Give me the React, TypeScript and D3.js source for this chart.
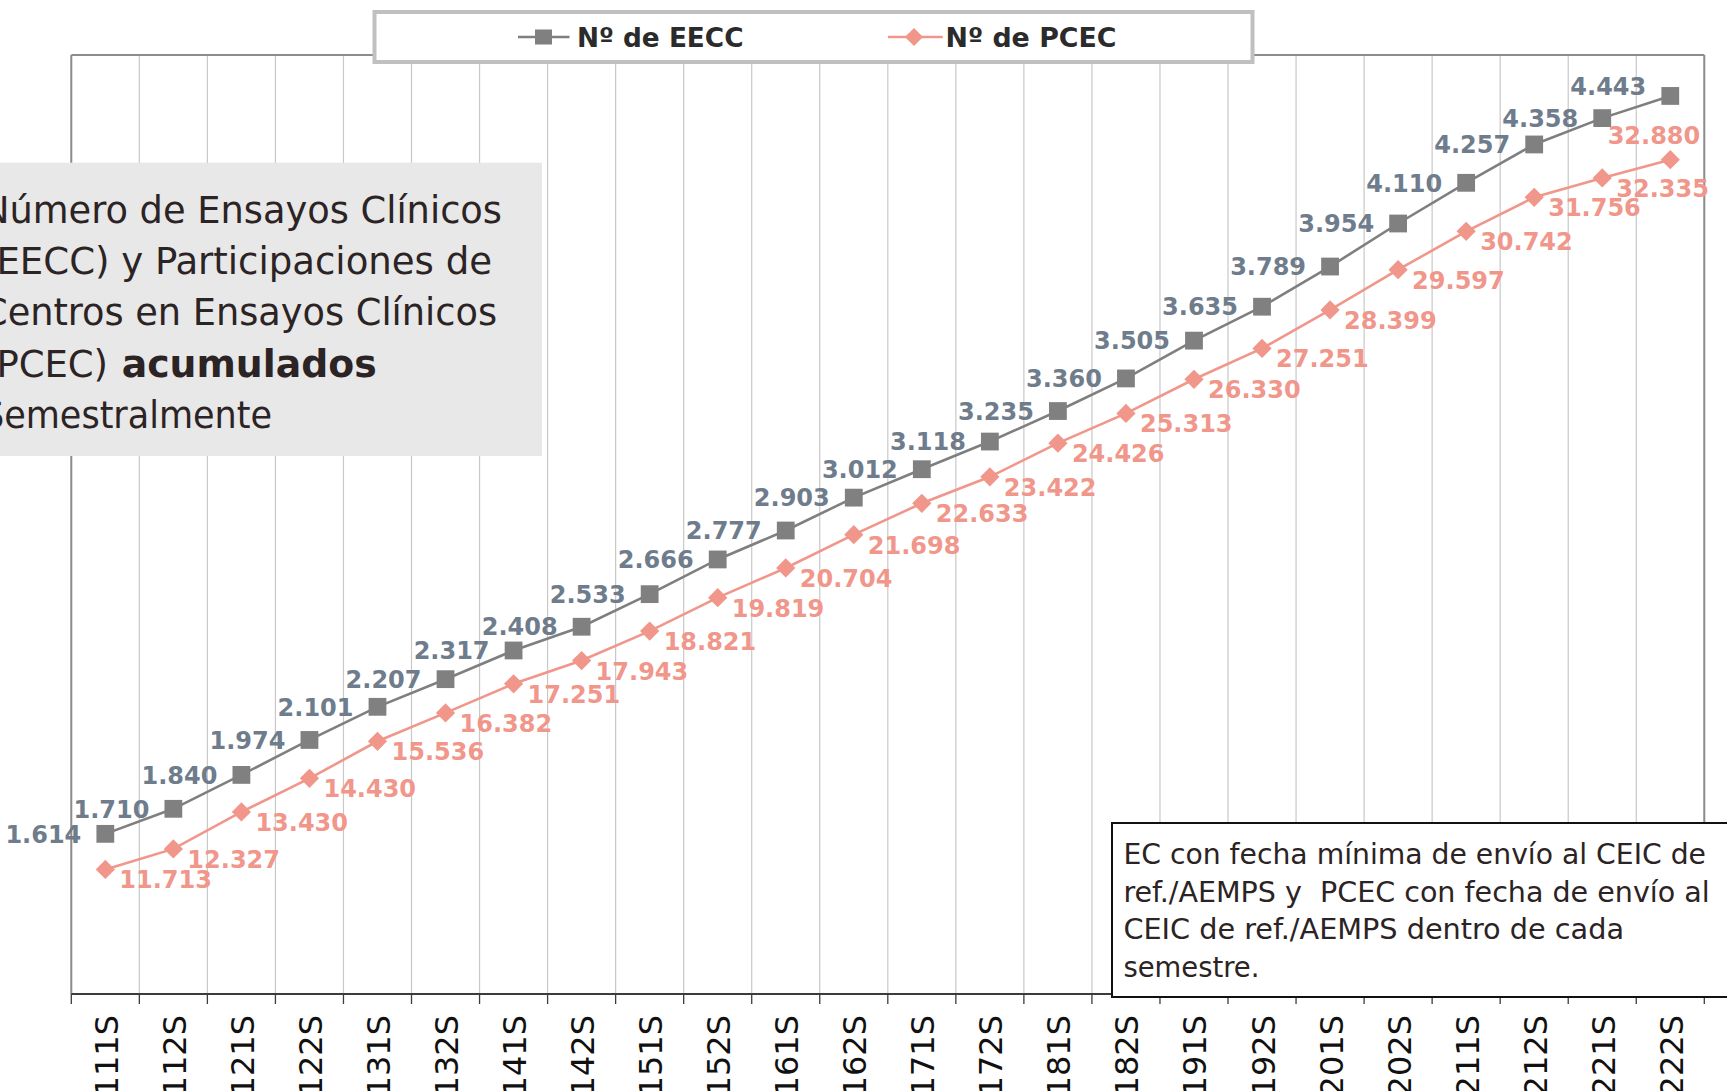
import React from 'react';
import * as d3 from 'd3';

const categories = [
  '20111S', '20112S', '20121S', '20122S', '20131S', '20132S', '20141S', '20142S',
  '20151S', '20152S', '20161S', '20162S', '20171S', '20172S', '20181S', '20182S',
  '20191S', '20192S', '20201S', '20202S', '20211S', '20212S', '20221S', '20222S',
];
const eeccValues = [
  1614, 1710, 1840, 1974, 2101, 2207, 2317, 2408, 2533, 2666, 2777, 2903,
  3012, 3118, 3235, 3360, 3505, 3635, 3789, 3954, 4110, 4257, 4358, 4443,
];
const pcecValues = [
  11713, 12327, 13430, 14430, 15536, 16382, 17251, 17943, 18821, 19819, 20704, 21698,
  22633, 23422, 24426, 25313, 26330, 27251, 28399, 29597, 30742, 31756, 32335, 32880,
];
const eeccDomain = [1000, 4600];
const pcecDomain = [8000, 36000];
const seriesNames = ['Nº de EECC', 'Nº de PCEC'];
const titleLines = [
  'Número de Ensayos Clínicos',
  '(EECC) y Participaciones de',
  'Centros en Ensayos Clínicos',
  '(PCEC) ',
  'acumulados',
  'Semestralmente',
];
const noteLines = [
  'EC con fecha mínima de envío al CEIC de',
  'ref./AEMPS y  PCEC con fecha de envío al',
  'CEIC de ref./AEMPS dentro de cada',
  'semestre.',
];

const W = 1727;
const H = 1091;
const plot = { left: 71.3, right: 1704.3, top: 55, bottom: 994 };
const GREY = '#7f7f7f';
const SALMON = '#f1968a';
const EECC_LABEL = '#6e7c8c';
const TEXT_DARK = '#2b2324';

const esLocale = d3.formatLocale({ decimal: ',', thousands: '.', grouping: [3], currency: ['', '€'] });
const fmt = esLocale.format(',d');

export default function App() {
  const x = d3.scaleBand<string>().domain(categories).range([plot.left, plot.right]).padding(0);
  const yE = d3.scaleLinear().domain(eeccDomain).range([plot.bottom, plot.top]);
  const yP = d3.scaleLinear().domain(pcecDomain).range([plot.bottom, plot.top]);
  const cx = (c: string) => (x(c) as number) + x.bandwidth() / 2;

  const lineE = d3.line<number>().x((_, i) => cx(categories[i])).y((d) => yE(d));
  const lineP = d3.line<number>().x((_, i) => cx(categories[i])).y((d) => yP(d));
  const squarePath = d3.symbol(d3.symbolSquare, 17.8 * 17.8)() as string;
  const edges = categories.map((c) => x(c) as number).concat([plot.right]);
  const last = categories.length - 1;

  return (
    <svg
      width={W}
      height={H}
      style={{ position: 'absolute', left: 0, top: 0, background: '#ffffff', display: 'block' }}
    >
      <rect x={0} y={0} width={W} height={H} fill="#ffffff" />
      {/* vertical gridlines */}
      {edges.map((e, i) => (
        <line key={'g' + i} x1={e} x2={e} y1={plot.top} y2={plot.bottom} stroke="#c8c8c8" strokeWidth={1.2} />
      ))}
      {/* plot frame */}
      <line x1={plot.left} x2={plot.right} y1={plot.top} y2={plot.top} stroke="#8c8c8c" strokeWidth={2} />
      <line x1={plot.right} x2={plot.right} y1={plot.top} y2={plot.bottom} stroke="#8c8c8c" strokeWidth={2} />
      <line x1={plot.left} x2={plot.left} y1={plot.top} y2={plot.bottom} stroke="#8c8c8c" strokeWidth={2} />
      {/* x axis */}
      <line x1={plot.left} x2={plot.right + 30} y1={plot.bottom} y2={plot.bottom} stroke="#3c3c3c" strokeWidth={2} />
      {edges.map((e, i) => (
        <line key={'t' + i} x1={e} x2={e} y1={plot.bottom} y2={plot.bottom + 10} stroke="#3c3c3c" strokeWidth={1.3} />
      ))}
      {categories.map((c) => (
        <text
          key={'xl' + c}
          transform={`translate(${cx(c) + 12.5},${plot.bottom + 21}) rotate(-90)`}
          textAnchor="end"
          fontFamily="DejaVu Sans, Verdana, sans-serif"
          fontSize={32}
          fill="#111111"
        >
          {c}
        </text>
      ))}

      {/* series lines */}
      <path d={lineE(eeccValues) as string} fill="none" stroke={GREY} strokeWidth={2.6} />
      <path d={lineP(pcecValues) as string} fill="none" stroke={SALMON} strokeWidth={2.6} />

      {/* markers */}
      {eeccValues.map((v, i) => (
        <path key={'se' + i} d={squarePath} transform={`translate(${cx(categories[i])},${yE(v)})`} fill="#808080" />
      ))}
      {pcecValues.map((v, i) => (
        <rect
          key={'dp' + i}
          x={-6.8}
          y={-6.8}
          width={13.6}
          height={13.6}
          transform={`translate(${cx(categories[i])},${yP(v)}) rotate(45)`}
          fill={SALMON}
        />
      ))}

      {/* data labels */}
      {eeccValues.map((v, i) => (
        <text
          key={'le' + i}
          x={cx(categories[i]) - 24}
          y={yE(v) + 8.7 - (i === last ? 10 : 0)}
          textAnchor="end"
          fontFamily="DejaVu Sans, Verdana, sans-serif"
          fontWeight="bold"
          fontSize={24}
          fill={EECC_LABEL}
        >
          {fmt(v)}
        </text>
      ))}
      {pcecValues.map((v, i) => (
        <text
          key={'lp' + i}
          x={i === last ? cx(categories[i]) + 30 : cx(categories[i]) + 14}
          y={i === last ? yP(v) - 16 : yP(v) + 19}
          textAnchor={i === last ? 'end' : 'start'}
          fontFamily="DejaVu Sans, Verdana, sans-serif"
          fontWeight="bold"
          fontSize={24}
          fill={SALMON}
        >
          {fmt(v)}
        </text>
      ))}

      {/* title box */}
      <rect x={-20} y={162.7} width={562} height={293.3} fill="#e8e8e8" />
      <g fontFamily="DejaVu Sans Condensed, DejaVu Sans, sans-serif" fontSize={37} fill={TEXT_DARK}>
        <text x={-18} y={222.7} textLength={520} lengthAdjust="spacingAndGlyphs">{titleLines[0]}</text>
        <text x={-18} y={274} textLength={510} lengthAdjust="spacingAndGlyphs">{titleLines[1]}</text>
        <text x={-18} y={325.3} textLength={515} lengthAdjust="spacingAndGlyphs">{titleLines[2]}</text>
        <text x={-18} y={376.5} textLength={126} lengthAdjust="spacingAndGlyphs">{titleLines[3]}</text>
        <text x={121.7} y={376.5} fontWeight="bold" textLength={255} lengthAdjust="spacingAndGlyphs">{titleLines[4]}</text>
        <text x={-18} y={427.7} textLength={290} lengthAdjust="spacingAndGlyphs">{titleLines[5]}</text>
      </g>

      {/* note box */}
      <rect x={1112} y={823} width={700} height={174} fill="#ffffff" stroke="#111111" strokeWidth={2} />
      <g fontFamily="DejaVu Sans Condensed, DejaVu Sans, sans-serif" fontSize={28} fill={TEXT_DARK}>
        <text x={1123.4} y={863.5} textLength={582.6} lengthAdjust="spacingAndGlyphs">{noteLines[0]}</text>
        <text x={1123.4} y={901.5} textLength={586.3} lengthAdjust="spacingAndGlyphs" style={{ whiteSpace: 'pre' }}>{noteLines[1]}</text>
        <text x={1123.4} y={939} textLength={500.6} lengthAdjust="spacingAndGlyphs">{noteLines[2]}</text>
        <text x={1123.4} y={977} textLength={136} lengthAdjust="spacingAndGlyphs">{noteLines[3]}</text>
      </g>

      {/* legend */}
      <rect x={374.5} y={12} width={878} height={50} fill="#ffffff" stroke="#c0c0c0" strokeWidth={4} />
      <line x1={518} x2={569.5} y1={37} y2={37} stroke={GREY} strokeWidth={2.5} />
      <rect x={535} y={29.5} width={17} height={15} fill="#808080" />
      <text x={577} y={46.5} fontFamily="DejaVu Sans Condensed, DejaVu Sans, sans-serif" fontWeight="bold" fontSize={27}
        fill="#2b2b2b" textLength={166.5} lengthAdjust="spacingAndGlyphs">{seriesNames[0]}</text>
      <line x1={888} x2={942.7} y1={37} y2={37} stroke={SALMON} strokeWidth={2.5} />
      <rect x={-6.4} y={-6.4} width={12.8} height={12.8} transform="translate(914,37) rotate(45)" fill={SALMON} />
      <text x={945.5} y={46.5} fontFamily="DejaVu Sans Condensed, DejaVu Sans, sans-serif" fontWeight="bold" fontSize={27}
        fill="#2b2b2b" textLength={171} lengthAdjust="spacingAndGlyphs">{seriesNames[1]}</text>
    </svg>
  );
}
